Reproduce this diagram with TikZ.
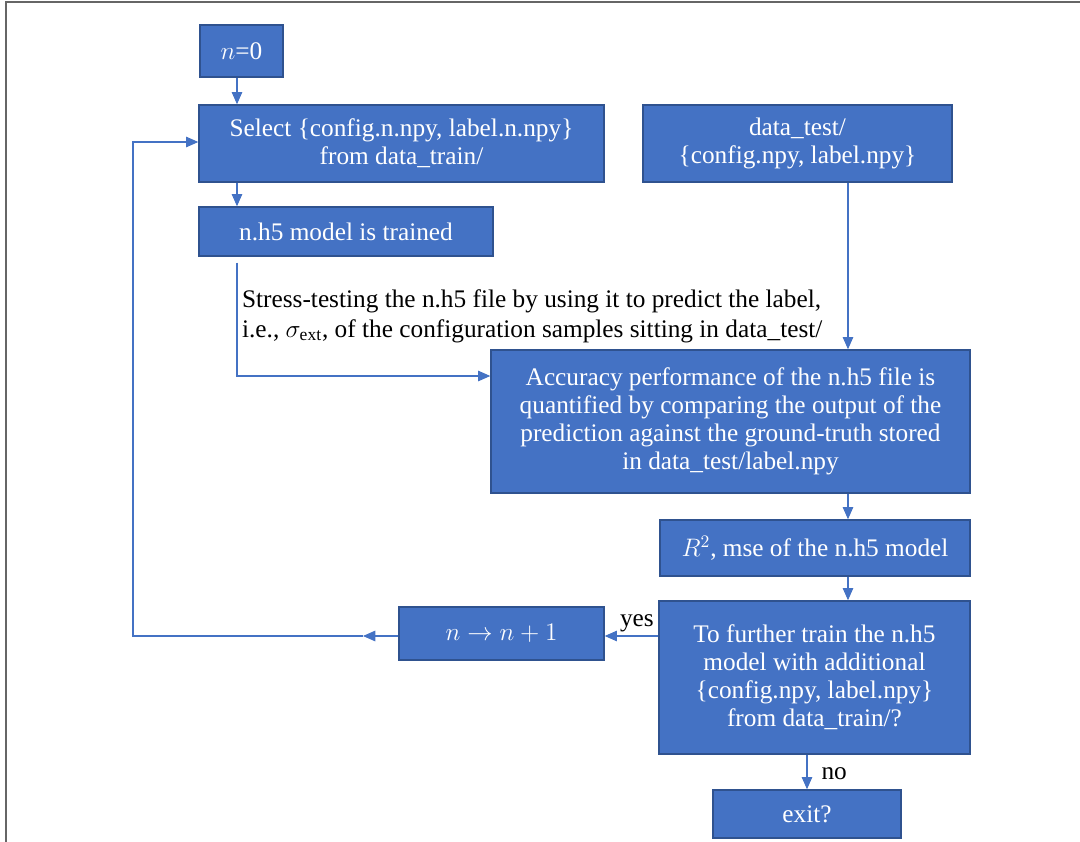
\documentclass[tikz,border=0pt]{standalone}
\usepackage{fontspec}
\setmainfont{Liberation Serif}
\usepackage{amsmath}
\usepackage{tikz}
\usetikzlibrary{arrows.meta,positioning,calc}
\definecolor{officeblue}{HTML}{4472C4}
\definecolor{boxedge}{HTML}{2F528F}
\definecolor{framegray}{HTML}{666666}
\tikzset{
  procbox/.style={
    rectangle, draw=boxedge, fill=officeblue, line width=0.8pt,
    text=white, align=center, inner sep=2pt,
    font=\fontsize{14.4}{16}\selectfont
  },
  flowarrow/.style={
    -{Triangle[length=7pt,width=6pt]}, line width=0.6pt, color=officeblue
  },
  edgelabel/.style={
    font=\fontsize{14.4}{17}\selectfont, text=black, inner sep=1pt
  },
}
\begin{document}
\begin{tikzpicture}[x=0.02cm, y=-0.02cm]
  \useasboundingbox (0,0) rectangle (1080,842);
  \draw[framegray, line width=1.2pt] (6,842) -- (6,2) -- (1080,2);

  \coordinate (lspine) at (237,0);
  \coordinate (rspine) at (848,0);
  \coordinate (loopx) at (133,0);

  \node[procbox, minimum width=1.66cm, minimum height=1.04cm] (start) at (241.5,51) {$n$=0};
  \node[procbox, minimum width=8.1cm, minimum height=1.54cm] (select) at (401.5,143.5)
    {Select \{config.n.npy, label.n.npy\}\\ from data\_train/};
  \node[procbox, minimum width=6.18cm, minimum height=1.54cm] (dtest) at (797.5,143.5)
    {data\_test/\\ \{config.npy, label.npy\}};
  \node[procbox, minimum width=5.88cm, minimum height=0.98cm] (trained) at (346,231.5)
    {n.h5 model is trained};
  \node[anchor=west, align=left, edgelabel] (stress) at (240,316)
    {Stress-testing the n.h5 file by using it to predict the label,\\
     i.e., $\sigma_{\mathrm{ext}}$, of the configuration samples sitting in data\_test/};
  \node[procbox, minimum width=9.58cm, minimum height=2.86cm] (accur) at (730.5,421.5)
    {Accuracy performance of the n.h5 file is\\
     quantified by comparing the output of the\\
     prediction against the ground-truth stored\\
     in data\_test/label.npy};
  \node[procbox, minimum width=6.2cm, minimum height=1.12cm] (rsq) at (815,548)
    {$R^2$, mse of the n.h5 model};
  \node[procbox, minimum width=6.22cm, minimum height=3.06cm] (further) at (814.5,677.5)
    {To further train the n.h5\\ model with additional\\
     \{config.npy, label.npy\}\\ from data\_train/?};
  \node[procbox, minimum width=4.1cm, minimum height=1.06cm] (incr) at (501.5,633.5)
    {$n \rightarrow n+1$};
  \node[procbox, minimum width=3.76cm, minimum height=0.96cm] (exit) at (807,814)
    {exit?};
  \coordinate (midtip) at (363,636);

  \draw[flowarrow] (start.south -| lspine) -- (select.north -| lspine);
  \draw[flowarrow] (select.south -| lspine) -- (trained.north -| lspine);
  \draw[flowarrow] ($(trained.south -| lspine)+(0,6)$) |- (accur.west |- 0,376);
  \draw[flowarrow] (dtest.south -| rspine) -- (accur.north -| rspine);
  \draw[flowarrow] (accur.south -| rspine) -- (rsq.north -| rspine);
  \draw[flowarrow] (rsq.south -| rspine) -- (further.north -| rspine);
  \draw[flowarrow] (further.west |- midtip) -- (incr.east |- midtip)
    node[edgelabel, pos=0.4, above=1pt] (yes) {yes};
  \draw[flowarrow] (incr.west |- midtip) -- (midtip);
  \draw[flowarrow] (midtip) -- (loopx |- midtip) -- (loopx |- 0,142) -- (select.west |- 0,142);
  \draw[flowarrow] (further.south -| exit) -- (exit.north)
    node[edgelabel, pos=0.55, right=7pt] (no) {no};
\end{tikzpicture}
\end{document}
